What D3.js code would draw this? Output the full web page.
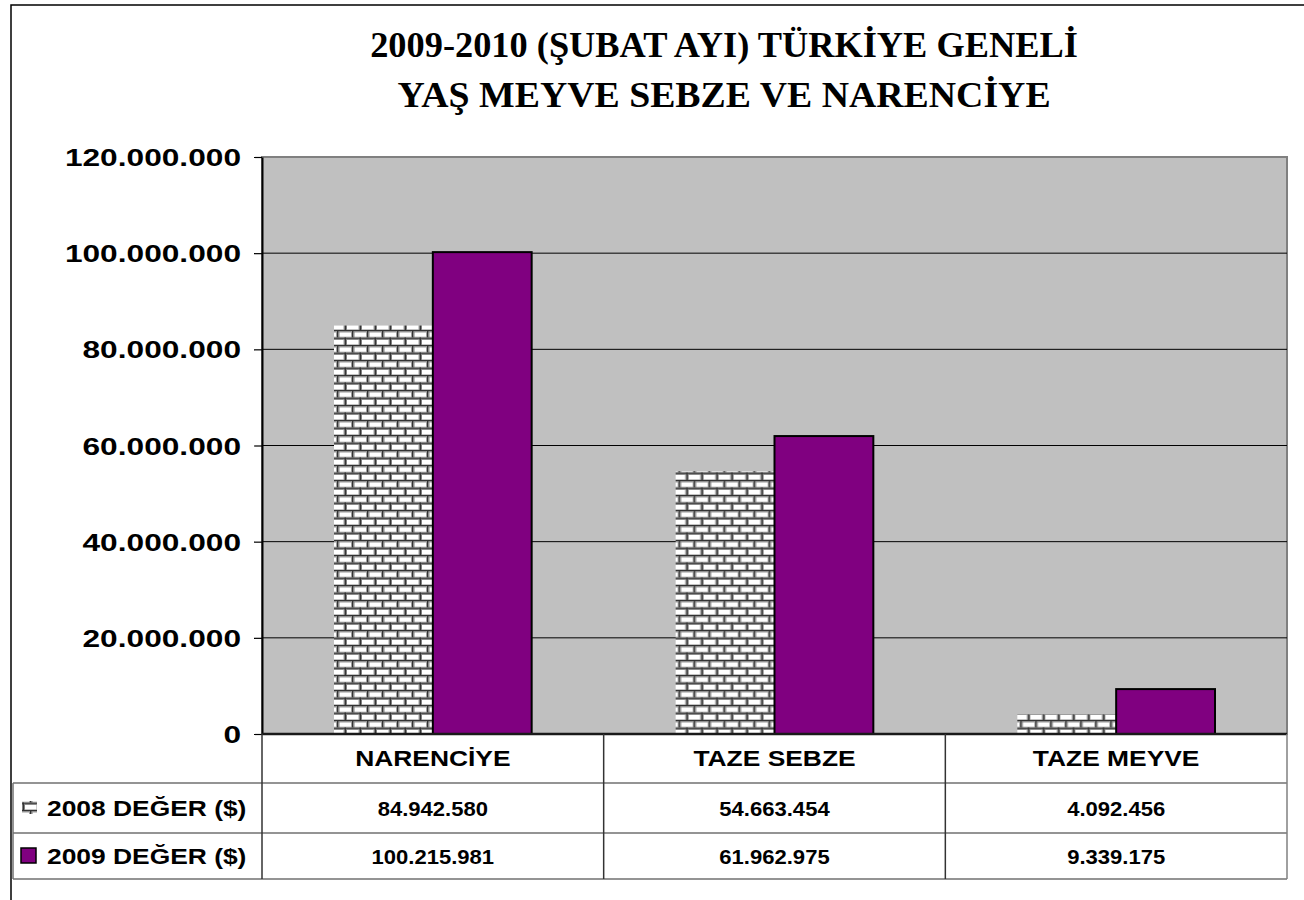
<!DOCTYPE html>
<html><head><meta charset="utf-8">
<script src="https://cdn.jsdelivr.net/npm/d3@7"></script>
<style>body{margin:0;background:#fff} svg{display:block}</style>
</head><body><svg id="chart" width="1304" height="900"></svg>
<script>
// ---- data ----
const titleLines = ["2009-2010 (ŞUBAT AYI) TÜRKİYE GENELİ", "YAŞ MEYVE SEBZE VE NARENCİYE"];
const categories = ["NARENCİYE", "TAZE SEBZE", "TAZE MEYVE"];
const seriesNames = ["2008 DEĞER ($)", "2009 DEĞER ($)"];
const values2008 = [84942580, 54663454, 4092456];
const values2009 = [100215981, 61962975, 9339175];
const yTicks = [0, 20000000, 40000000, 60000000, 80000000, 100000000, 120000000];

// ---- layout ----
const W = 1304, H = 900;
const plot = {left: 262, right: 1287, top: 157, bottom: 734};
const tableRows = [734, 783, 833, 879];
const tableLeft = 13;
const SX_TITLE = [1.01, 1.05], SX_AXIS = 1.32, SX_LABEL = 1.2, SX_NUM = 1.05;
const sansB = "'Liberation Sans', Arial, sans-serif";
const serifB = "'Liberation Serif', 'Times New Roman', serif";

const svg = d3.select("#chart");
const fmt = d3.formatLocale({decimal: ",", thousands: ".", grouping: [3], currency: ["", ""]}).format(",d");

// brick pattern
const defs = svg.append("defs");
const pat = defs.append("pattern").attr("id", "brick").attr("patternUnits", "userSpaceOnUse")
  .attr("width", 15).attr("height", 15);
pat.append("rect").attr("width", 15).attr("height", 15).attr("fill", "#fff");
[[0, 0], [7.5, 7.5]].forEach(([ox, oy]) => {
  pat.append("rect").attr("x", 0).attr("y", oy + 6.5).attr("width", 15).attr("height", 1).attr("fill", "#c4c4c4");
  pat.append("rect").attr("x", 0).attr("y", oy).attr("width", 15).attr("height", 1.4).attr("fill", "#333");
  pat.append("rect").attr("x", 0).attr("y", oy + 1.4).attr("width", 15).attr("height", 1).attr("fill", "#808080");
  pat.append("rect").attr("x", (ox + 14) % 15).attr("y", oy + 1.4).attr("width", 1).attr("height", 6.1).attr("fill", "#a0a0a0");
  pat.append("rect").attr("x", ox).attr("y", oy).attr("width", 1.5).attr("height", 7.5).attr("fill", "#333");
  pat.append("rect").attr("x", ox + 1.5).attr("y", oy + 1.4).attr("width", 1).attr("height", 6.1).attr("fill", "#808080");
});

// outer border
svg.append("rect").attr("x", 11).attr("y", 5).attr("width", W).attr("height", H)
  .attr("fill", "#fff").attr("stroke", "#000").attr("stroke-width", 1.5);

// title
svg.append("g").selectAll("text").data(titleLines).join("text")
  .attr("transform", (d, i) => `translate(724,${57 + i * 50}) scale(${SX_TITLE[i]},1)`)
  .attr("text-anchor", "middle").attr("font-family", serifB).attr("font-weight", "bold")
  .attr("font-size", 36).attr("fill", "#000").text(d => d);

// scales
const x = d3.scaleBand().domain(categories).range([plot.left, plot.right]);
const groupPad = 72;
const xs = d3.scaleBand().domain(seriesNames).range([groupPad, x.bandwidth() - groupPad]);
const y = d3.scaleLinear().domain([0, 120000000]).range([plot.bottom, plot.top]);

// plot area
svg.append("rect").attr("x", plot.left).attr("y", plot.top)
  .attr("width", plot.right - plot.left).attr("height", plot.bottom - plot.top)
  .attr("fill", "#c0c0c0").attr("stroke", "#808080").attr("stroke-width", 2);

// gridlines
svg.append("g").selectAll("line").data(yTicks.filter(d => d > 0 && d < 120000000)).join("line")
  .attr("x1", plot.left).attr("x2", plot.right).attr("y1", d => y(d)).attr("y2", d => y(d))
  .attr("stroke", "#000").attr("stroke-width", 1);

// bars
const series = [
  {name: seriesNames[0], values: values2008},
  {name: seriesNames[1], values: values2009}
];
const gCat = svg.append("g").selectAll("g").data(categories).join("g")
  .attr("transform", d => `translate(${x(d)},0)`);
gCat.selectAll("rect").data((c, ci) => series.map((s, si) => ({s, si, v: s.values[ci]}))).join("rect")
  .attr("x", d => xs(d.s.name)).attr("width", xs.bandwidth())
  .attr("y", d => y(d.v)).attr("height", d => y(0) - y(d.v))
  .attr("fill", d => d.si === 0 ? "url(#brick)" : "#800080")
  .attr("stroke", d => d.si === 0 ? "none" : "#000")
  .attr("stroke-width", 2);

// y axis
const yAxis = svg.append("g").attr("transform", `translate(${plot.left},0)`)
  .call(d3.axisLeft(y).tickValues(yTicks).tickSize(8).tickSizeOuter(0).tickFormat(fmt));
yAxis.select(".domain").attr("stroke", "#000").attr("stroke-width", 2);
yAxis.selectAll(".tick line").attr("stroke", "#000").attr("stroke-width", 1.2);
yAxis.selectAll(".tick text").attr("x", null).attr("transform", `translate(-21,0) scale(${SX_AXIS},1)`)
  .attr("font-family", sansB).attr("font-weight", "bold").attr("font-size", 24).attr("fill", "#000")
  .attr("dy", "0.36em");

// x axis line
svg.append("line").attr("x1", plot.left).attr("x2", plot.right).attr("y1", plot.bottom).attr("y2", plot.bottom)
  .attr("stroke", "#1a1a1a").attr("stroke-width", 2.5);

// data table
const tg = svg.append("g");
const colEdges = [plot.left, ...categories.map(c => x(c) + x.bandwidth())];
tg.selectAll("line.h").data(tableRows.slice(1)).join("line").attr("class", "h")
  .attr("x1", tableLeft).attr("x2", plot.right).attr("y1", d => d).attr("y2", d => d)
  .attr("stroke", "#707070").attr("stroke-width", 1.5);
tg.selectAll("line.v").data(colEdges).join("line").attr("class", "v")
  .attr("x1", d => d).attr("x2", d => d).attr("y1", tableRows[0]).attr("y2", tableRows[3])
  .attr("stroke", (d, i) => i === colEdges.length - 1 ? "#808080" : "#333").attr("stroke-width", 1.5);
tg.append("line").attr("x1", tableLeft).attr("x2", tableLeft).attr("y1", tableRows[1]).attr("y2", tableRows[3])
  .attr("stroke", "#707070").attr("stroke-width", 1.5);

// category labels
tg.selectAll("text.cat").data(categories).join("text").attr("class", "cat")
  .attr("transform", d => `translate(${x(d) + x.bandwidth() / 2},${(tableRows[0] + tableRows[1]) / 2}) scale(${SX_LABEL},1)`)
  .attr("text-anchor", "middle").attr("dy", "0.36em")
  .attr("font-family", sansB).attr("font-weight", "bold").attr("font-size", 22).text(d => d);

// series rows
series.forEach((s, si) => {
  const cy = (tableRows[si + 1] + tableRows[si + 2]) / 2;
  if (si === 0) {
    tg.append("rect").attr("x", 22).attr("y", cy - 7).attr("width", 15).attr("height", 13).attr("fill", "url(#brick)");
  } else {
    tg.append("rect").attr("x", 21).attr("y", cy - 8).attr("width", 15).attr("height", 15)
      .attr("fill", "#800080").attr("stroke", "#000").attr("stroke-width", 1.5);
  }
  tg.append("text").attr("transform", `translate(47,${cy}) scale(${SX_LABEL},1)`)
    .attr("dy", "0.36em").attr("font-family", sansB).attr("font-weight", "bold").attr("font-size", 22)
    .text(s.name);
  tg.selectAll(null).data(categories).join("text")
    .attr("transform", (c) => `translate(${x(c) + x.bandwidth() / 2},${cy}) scale(${SX_NUM},1)`)
    .attr("text-anchor", "middle").attr("dy", "0.36em")
    .attr("font-family", sansB).attr("font-weight", "bold").attr("font-size", 21)
    .text((c, ci) => fmt(s.values[ci]));
});
</script></body></html>
